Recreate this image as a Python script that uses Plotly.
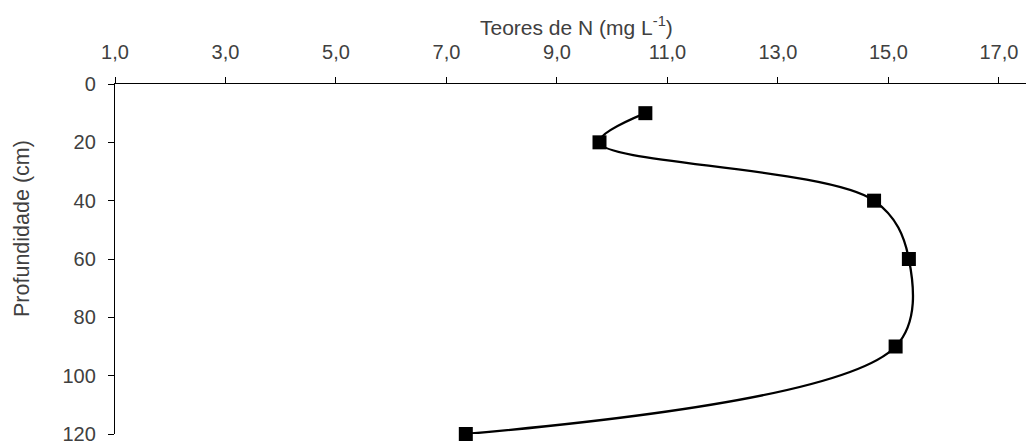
import plotly.graph_objects as go

# Data
teores_n = [10.6, 9.77, 14.74, 15.37, 15.13, 7.35]   # mg L-1
profundidade = [10, 20, 40, 60, 90, 120]            # cm
x_ticks = [1, 3, 5, 7, 9, 11, 13, 15, 17]
y_ticks = [0, 20, 40, 60, 80, 100, 120]

W, H = 1026, 441
L, T, R, B = 115, 84, 0, 7
pw, ph = W - L - R, H - T - B

def px_to_paper_x(px):
    return (px - L) / pw

def px_to_paper_y(py):
    return (H - B - py) / ph

text_color = "#404040"
font_family = "Liberation Sans, Arial, sans-serif"

fig = go.Figure()
fig.add_trace(go.Scatter(
    x=teores_n, y=profundidade,
    mode="lines+markers",
    line=dict(color="black", width=2.3, shape="spline", smoothing=1),
    marker=dict(symbol="square", size=14, color="black"),
    cliponaxis=False,
    showlegend=False,
))

fig.update_layout(
    width=W, height=H,
    margin=dict(l=L, t=T, r=R, b=B, pad=0),
    paper_bgcolor="white", plot_bgcolor="white",
    separators=", ",
    font=dict(family=font_family, size=20, color=text_color),
    xaxis=dict(
        side="top", range=[1, 17.49], tickvals=x_ticks, tickformat=".1f",
        showline=True, linecolor="black", linewidth=1.3,
        ticks="outside", ticklen=6, tickcolor="black", tickwidth=1.3,
        showgrid=False, zeroline=False, automargin=False,
        ticklabelstandoff=10, ticklabeloverflow="allow",
        tickfont=dict(size=20, color=text_color),
    ),
    yaxis=dict(
        range=[120, 0], tickvals=y_ticks,
        showline=True, linecolor="black", linewidth=1.3,
        ticks="outside", ticklen=6, tickcolor="black", tickwidth=1.3,
        showgrid=False, zeroline=False, automargin=False,
        ticklabelstandoff=8, ticklabeloverflow="allow",
        tickfont=dict(size=20, color=text_color),
    ),
    annotations=[
        dict(text="Teores de N (mg L<sup>-1</sup>)", xref="paper", yref="paper",
             x=px_to_paper_x(576), y=px_to_paper_y(26), showarrow=False,
             xanchor="center", yanchor="middle",
             font=dict(size=21, color=text_color)),
        dict(text="Profundidade (cm)", xref="paper", yref="paper",
             x=px_to_paper_x(22), y=px_to_paper_y(229), showarrow=False,
             xanchor="center", yanchor="middle", textangle=-90,
             font=dict(size=21.5, color=text_color)),
    ],
)

fig.write_html(
    "out.html",
    config={"displayModeBar": False},
    post_script="document.body.style.margin='0';document.body.style.overflow='hidden';",
)
